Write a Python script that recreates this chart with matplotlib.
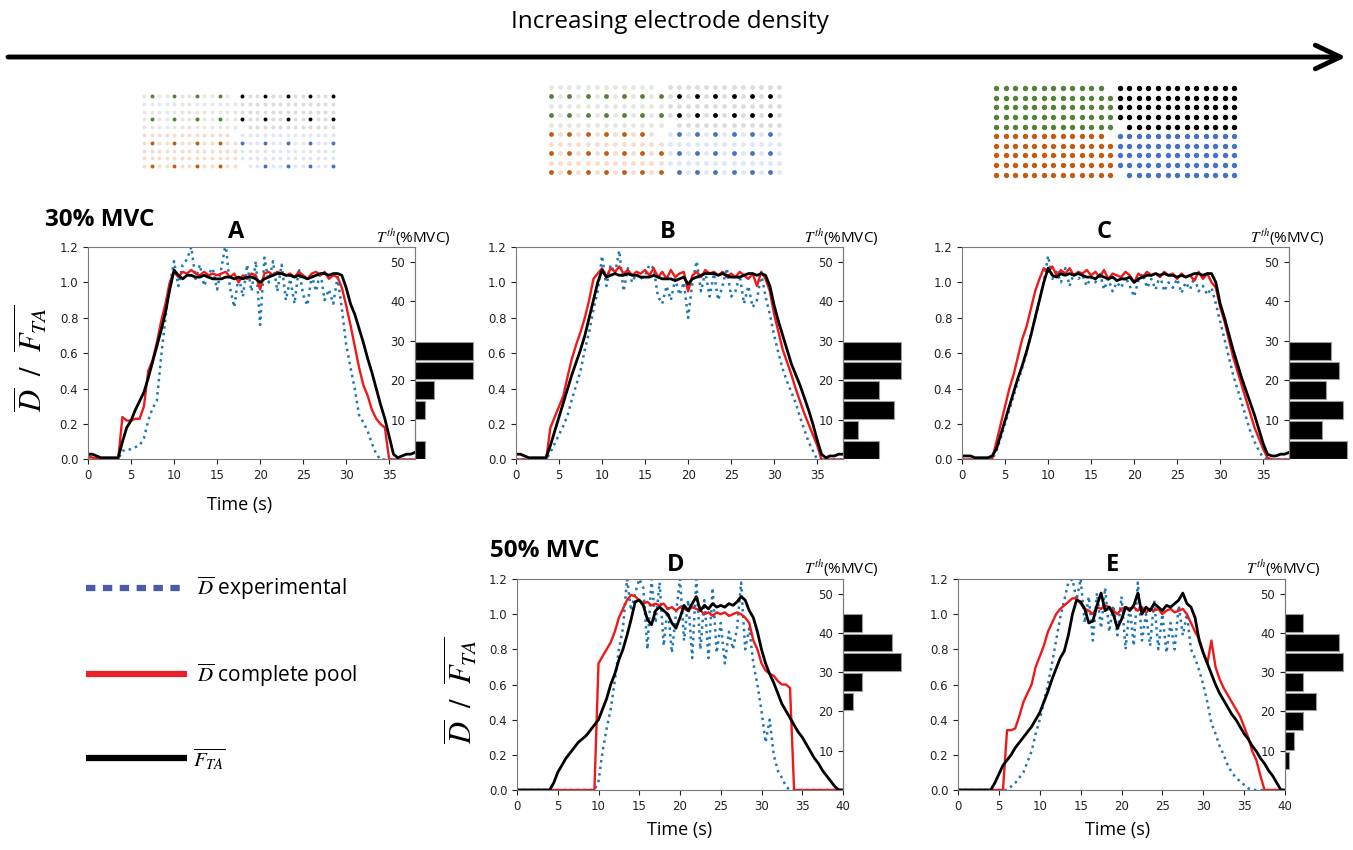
import numpy as np
import matplotlib
matplotlib.use('Agg')
import matplotlib.pyplot as plt

plt.rcParams['font.family'] = 'DejaVu Sans'
plt.rcParams['mathtext.fontset'] = 'stix'

W, H = 1353, 850
TEXT_FONT = 'Open Sans'

# time bases (s), one sample every 0.5 s
t_short = np.arange(0, 38.01, 0.5)
t_long = np.arange(0, 40.01, 0.5)

# ---- 30% MVC, grid A ----
A_black = [0.03, 0.03, 0.02, 0.01, 0.01, 0.01, 0.01, 0.01, 0.10, 0.18,
           0.22, 0.28, 0.33, 0.38, 0.46, 0.55, 0.64, 0.73, 0.83, 0.96,
           1.07, 1.04, 1.02, 1.04, 1.04, 1.03, 1.03, 1.04, 1.03, 1.02,
           1.02, 1.02, 1.03, 1.03, 1.02, 1.03, 1.02, 1.03, 1.03, 1.02,
           1.00, 1.02, 1.03, 1.04, 1.05, 1.05, 1.04, 1.04, 1.03, 1.04,
           1.03, 1.02, 1.03, 1.04, 1.05, 1.05, 1.04, 1.05, 1.05, 1.04,
           0.97, 0.88, 0.82, 0.74, 0.66, 0.57, 0.49, 0.40, 0.31, 0.23,
           0.13, 0.03, 0.01, 0.02, 0.03, 0.03, 0.04]
A_red = [0.02, 0.01, 0.01, 0.00, 0.00, 0.00, 0.00, 0.00, 0.24, 0.22,
         0.22, 0.23, 0.23, 0.30, 0.50, 0.56, 0.66, 0.78, 0.88, 1.00,
         1.06, 1.03, 1.06, 1.05, 1.07, 1.05, 1.04, 1.06, 1.04, 1.05,
         1.04, 1.05, 1.06, 1.03, 1.05, 1.00, 1.04, 1.02, 1.05, 1.04,
         0.96, 1.05, 1.06, 1.04, 1.06, 1.05, 1.04, 1.05, 1.03, 1.06,
         1.04, 1.02, 1.05, 1.06, 1.04, 1.06, 1.02, 1.04, 1.03, 0.97,
         0.87, 0.76, 0.64, 0.52, 0.42, 0.36, 0.28, 0.23, 0.20, 0.18,
         0.00, 0.00, 0.00, 0.00, 0.00, 0.00, 0.00]
A_blue = [0.00, 0.00, 0.00, 0.00, 0.00, 0.00, 0.00, 0.00, 0.05, 0.05,
          0.06, 0.07, 0.08, 0.12, 0.22, 0.29, 0.33, 0.58, 0.80, 0.98,
          1.12, 0.98, 1.10, 1.13, 1.20, 1.02, 1.10, 0.98, 1.05, 1.08,
          0.96, 1.08, 1.22, 0.97, 0.86, 1.04, 0.92, 1.10, 0.95, 1.12,
          0.76, 1.14, 1.00, 1.12, 0.95, 1.10, 0.90, 1.02, 0.88, 1.08,
          0.93, 0.87, 1.04, 0.95, 1.06, 0.90, 0.96, 0.88, 1.03, 0.85,
          0.65, 0.52, 0.40, 0.25, 0.21, 0.16, 0.09, 0.03, 0.00, 0.00,
          0.00, 0.00, 0.00, 0.00, 0.00, 0.00, 0.00]

# ---- 30% MVC, grid B ----
B_black = [0.03, 0.03, 0.02, 0.01, 0.01, 0.01, 0.01, 0.01, 0.08, 0.16,
           0.24, 0.32, 0.40, 0.48, 0.55, 0.62, 0.70, 0.80, 0.90, 1.00,
           1.07, 1.03, 1.04, 1.05, 1.04, 1.04, 1.05, 1.04, 1.04, 1.03,
           1.03, 1.03, 1.04, 1.03, 1.02, 1.02, 1.02, 1.01, 1.02, 1.03,
           0.99, 1.02, 1.03, 1.04, 1.05, 1.05, 1.05, 1.04, 1.05, 1.04,
           1.03, 1.03, 1.03, 1.04, 1.05, 1.05, 1.04, 1.05, 1.04, 0.98,
           0.87, 0.78, 0.70, 0.62, 0.54, 0.48, 0.42, 0.35, 0.28, 0.20,
           0.11, 0.03, 0.01, 0.02, 0.02, 0.03, 0.03]
B_red = [0.00, 0.00, 0.00, 0.00, 0.00, 0.00, 0.00, 0.00, 0.18, 0.24,
         0.30, 0.36, 0.47, 0.57, 0.65, 0.72, 0.80, 0.90, 1.02, 1.05,
         1.08, 1.03, 1.08, 1.06, 1.09, 1.05, 1.07, 1.04, 1.06, 1.05,
         1.07, 1.04, 1.08, 1.03, 1.06, 1.02, 1.07, 1.03, 1.05, 1.06,
         0.95, 1.04, 1.06, 1.03, 1.07, 1.05, 1.06, 1.04, 1.06, 1.03,
         1.05, 1.03, 1.06, 1.04, 1.02, 1.05, 0.98, 1.06, 1.02, 0.95,
         0.82, 0.72, 0.62, 0.55, 0.48, 0.40, 0.33, 0.26, 0.20, 0.14,
         0.08, 0.00, 0.00, 0.00, 0.00, 0.00, 0.00]
B_blue = [0.00, 0.00, 0.00, 0.00, 0.00, 0.00, 0.00, 0.00, 0.04, 0.09,
          0.14, 0.19, 0.25, 0.34, 0.42, 0.50, 0.62, 0.72, 0.85, 0.95,
          1.15, 0.98, 1.10, 1.05, 1.18, 0.95, 1.08, 1.00, 1.05, 1.02,
          1.04, 1.10, 1.08, 0.92, 0.88, 0.98, 0.90, 1.02, 0.93, 1.00,
          0.80, 1.00, 1.12, 0.95, 1.06, 0.92, 1.05, 0.90, 0.98, 1.08,
          0.92, 0.95, 1.04, 0.88, 0.98, 0.86, 0.90, 1.05, 0.92, 0.82,
          0.70, 0.60, 0.51, 0.44, 0.38, 0.32, 0.24, 0.17, 0.10, 0.05,
          0.00, 0.00, 0.00, 0.00, 0.00, 0.00, 0.00]

# ---- 30% MVC, grid C ----
C_black = [0.02, 0.02, 0.02, 0.01, 0.01, 0.01, 0.01, 0.02, 0.06, 0.14,
           0.22, 0.30, 0.38, 0.46, 0.53, 0.61, 0.70, 0.80, 0.90, 1.00,
           1.08, 1.04, 1.03, 1.05, 1.04, 1.05, 1.04, 1.05, 1.04, 1.03,
           1.03, 1.02, 1.04, 1.03, 1.02, 1.03, 1.01, 1.02, 1.02, 1.03,
           1.00, 1.02, 1.03, 1.04, 1.04, 1.05, 1.04, 1.05, 1.04, 1.04,
           1.03, 1.04, 1.03, 1.04, 1.05, 1.05, 1.04, 1.05, 1.05, 1.00,
           0.88, 0.80, 0.71, 0.62, 0.54, 0.46, 0.39, 0.32, 0.25, 0.17,
           0.09, 0.03, 0.02, 0.02, 0.03, 0.03, 0.04]
C_red = [0.00, 0.00, 0.00, 0.00, 0.00, 0.00, 0.00, 0.00, 0.10, 0.20,
         0.30, 0.40, 0.48, 0.58, 0.68, 0.75, 0.85, 0.95, 1.02, 1.08,
         1.06, 1.09, 1.04, 1.07, 1.05, 1.08, 1.04, 1.06, 1.05, 1.07,
         1.04, 1.06, 1.03, 1.07, 1.02, 1.05, 1.04, 1.03, 1.06, 1.04,
         1.00, 1.05, 1.03, 1.06, 1.04, 1.05, 1.03, 1.06, 1.04, 1.05,
         1.02, 1.05, 1.03, 1.04, 1.01, 1.06, 1.02, 1.05, 1.00, 0.97,
         0.86, 0.78, 0.68, 0.58, 0.50, 0.42, 0.34, 0.26, 0.18, 0.12,
         0.06, 0.01, 0.00, 0.00, 0.00, 0.00, 0.00]
C_blue = [0.00, 0.00, 0.00, 0.00, 0.00, 0.00, 0.00, 0.00, 0.05, 0.12,
          0.20, 0.28, 0.36, 0.44, 0.52, 0.60, 0.70, 0.80, 0.90, 1.00,
          1.15, 1.02, 1.06, 1.00, 1.08, 0.98, 1.05, 1.02, 1.04, 0.98,
          1.03, 1.00, 1.06, 0.96, 1.02, 0.95, 1.00, 0.97, 1.03, 0.98,
          0.92, 1.01, 1.05, 0.97, 1.02, 0.96, 1.04, 0.95, 1.00, 0.97,
          1.02, 0.94, 1.00, 0.96, 1.03, 0.95, 0.98, 0.93, 0.97, 0.88,
          0.78, 0.68, 0.58, 0.48, 0.40, 0.32, 0.24, 0.16, 0.10, 0.05,
          0.01, 0.00, 0.00, 0.00, 0.00, 0.00, 0.00]

# ---- 50% MVC, grid D ----
D_black = [0.00, 0.00, 0.00, 0.00, 0.00, 0.00, 0.00, 0.00, 0.00, 0.04,
           0.10, 0.14, 0.18, 0.21, 0.24, 0.27, 0.29, 0.31, 0.34, 0.37,
           0.40, 0.46, 0.52, 0.60, 0.66, 0.74, 0.80, 0.88, 0.97, 1.07,
           1.08, 1.05, 0.97, 0.94, 1.02, 1.04, 1.02, 1.00, 0.95, 0.92,
           0.98, 1.05, 1.02, 1.06, 1.10, 1.02, 1.05, 1.03, 1.06, 1.04,
           1.05, 1.04, 1.06, 1.05, 1.07, 1.10, 1.08, 1.02, 0.98, 0.90,
           0.80, 0.72, 0.66, 0.61, 0.55, 0.49, 0.45, 0.41, 0.37, 0.33,
           0.30, 0.26, 0.22, 0.18, 0.15, 0.11, 0.08, 0.05, 0.02, 0.00,
           0.00]
D_red = [0.00, 0.00, 0.00, 0.00, 0.00, 0.00, 0.00, 0.00, 0.00, 0.00,
         0.00, 0.00, 0.00, 0.00, 0.00, 0.00, 0.00, 0.00, 0.00, 0.00,
         0.72, 0.76, 0.80, 0.84, 0.90, 0.98, 1.03, 1.08, 1.11, 1.10,
         1.08, 1.06, 1.07, 1.05, 1.06, 1.05, 1.06, 1.03, 1.04, 1.02,
         1.04, 1.03, 1.02, 1.04, 1.03, 1.02, 1.00, 1.01, 0.99, 1.01,
         1.00, 1.01, 0.99, 1.00, 1.01, 1.00, 0.98, 0.95, 0.85, 0.80,
         0.72, 0.68, 0.66, 0.65, 0.62, 0.60, 0.60, 0.58, 0.00, 0.00,
         0.00, 0.00, 0.00, 0.00, 0.00, 0.00, 0.00, 0.00, 0.00, 0.00,
         0.00]
D_blue = [0.00, 0.00, 0.00, 0.00, 0.00, 0.00, 0.00, 0.00, 0.00, 0.00,
          0.00, 0.00, 0.00, 0.00, 0.00, 0.00, 0.00, 0.00, 0.00, 0.00,
          0.05, 0.22, 0.35, 0.46, 0.62, 0.80, 0.92, 1.20, 1.02, 1.12,
          1.20, 1.15, 0.80, 1.20, 0.95, 1.18, 0.82, 1.05, 0.78, 1.00,
          1.20, 0.85, 1.08, 0.75, 1.20, 0.80, 1.08, 0.75, 1.15, 0.78,
          0.95, 0.72, 0.90, 0.80, 0.92, 1.18, 0.80, 0.92, 0.72, 0.60,
          0.45, 0.27, 0.40, 0.20, 0.11, 0.07, 0.02, 0.00, 0.00, 0.00,
          0.00, 0.00, 0.00, 0.00, 0.00, 0.00, 0.00, 0.00, 0.00, 0.00,
          0.00]

# ---- 50% MVC, grid E ----
E_black = [0.00, 0.00, 0.00, 0.00, 0.00, 0.00, 0.00, 0.00, 0.00, 0.04,
           0.09, 0.14, 0.17, 0.20, 0.24, 0.27, 0.30, 0.33, 0.36, 0.40,
           0.44, 0.50, 0.56, 0.63, 0.69, 0.75, 0.79, 0.88, 1.00, 1.08,
           1.07, 1.03, 0.95, 0.96, 1.05, 1.12, 1.02, 1.04, 1.00, 0.92,
           0.97, 1.04, 1.02, 1.05, 1.12, 1.00, 1.04, 1.02, 1.06, 1.04,
           1.02, 1.05, 1.04, 1.06, 1.08, 1.12, 1.06, 1.04, 0.98, 0.85,
           0.78, 0.72, 0.66, 0.60, 0.55, 0.51, 0.47, 0.43, 0.40, 0.36,
           0.32, 0.29, 0.25, 0.22, 0.18, 0.15, 0.11, 0.08, 0.04, 0.00,
           0.00]
E_red = [0.00, 0.00, 0.00, 0.00, 0.00, 0.00, 0.00, 0.00, 0.00, 0.00,
         0.00, 0.00, 0.34, 0.34, 0.35, 0.42, 0.50, 0.55, 0.60, 0.70,
         0.76, 0.82, 0.90, 0.95, 1.00, 1.03, 1.05, 1.07, 1.09, 1.09,
         1.06, 1.03, 1.02, 1.00, 1.04, 1.03, 1.05, 1.04, 1.02, 1.00,
         1.03, 1.04, 1.03, 1.04, 1.02, 1.04, 1.01, 1.03, 1.02, 1.03,
         1.00, 1.02, 1.03, 1.01, 1.02, 1.03, 1.00, 0.95, 0.90, 0.86,
         0.78, 0.72, 0.85, 0.70, 0.63, 0.58, 0.54, 0.50, 0.46, 0.42,
         0.36, 0.30, 0.22, 0.17, 0.08, 0.00, 0.00, 0.00, 0.00, 0.00,
         0.00]
E_blue = [0.00, 0.00, 0.00, 0.00, 0.00, 0.00, 0.00, 0.00, 0.00, 0.00,
          0.00, 0.00, 0.00, 0.02, 0.04, 0.07, 0.10, 0.16, 0.22, 0.32,
          0.40, 0.50, 0.60, 0.72, 0.85, 0.98, 1.08, 1.18, 1.20, 1.08,
          1.20, 0.95, 1.10, 0.85, 1.12, 0.92, 1.15, 0.90, 1.05, 0.88,
          1.10, 0.80, 1.05, 0.82, 1.18, 0.85, 1.00, 0.82, 1.08, 0.80,
          1.00, 0.78, 0.95, 0.80, 1.05, 0.88, 1.00, 0.80, 0.75, 0.68,
          0.60, 0.50, 0.38, 0.32, 0.25, 0.20, 0.14, 0.10, 0.07, 0.05,
          0.03, 0.01, 0.00, 0.00, 0.00, 0.00, 0.00, 0.00, 0.00, 0.00,
          0.00]

# recruitment thresholds: motor units per 5 %MVC bin (0-5, 5-10, ...)
th_bins = np.arange(0, 50, 5)
A_counts = [1, 0, 1, 2, 6, 6]
B_counts = [5, 2, 7, 5, 8, 8]
C_counts = [14, 8, 13, 9, 12, 10]
D_counts = [0, 0, 0, 0, 1, 2, 6, 5, 2]
E_counts = [0, 1, 2, 4, 7, 4, 13, 12, 4]

# electrode grids: active columns/rows per quadrant (local indices)
grid_cols_left = [(1, 4, 7, 10), (0, 2, 4, 6, 8, 10, 12), tuple(range(13))]
grid_cols_right = [(0, 3, 6, 9, 12), (1, 3, 5, 7, 9, 11), tuple(range(13))]
grid_rows_top = [(0, 3), (1, 3), tuple(range(5))]
grid_rows_bottom = [(1, 4), (0, 2, 4), tuple(range(5))]

BLUE = '#1f77b4'
RED = '#f01818'
SPINE = '#7a7a7a'
quad_on = {'TL': '#538135', 'TR': '#000000', 'BL': '#c55a11', 'BR': '#4472c4'}
quad_off = {'TL': '#e4e8e0', 'TR': '#dcdcde', 'BL': '#f8dccd', 'BR': '#dfe7f7'}

fig = plt.figure(figsize=(W / 100, H / 100), dpi=100)


def px_axes(left, top, width, height):
    return fig.add_axes([left / W, 1 - (top + height) / H, width / W, height / H])


bg = px_axes(0, 0, W, H)
bg.set_xlim(0, W)
bg.set_ylim(H, 0)
bg.axis('off')


def draw_grid(x0, y0, dx, dy, size, k):
    for r in range(10):
        for c in range(26):
            top, left = r < 5, c < 13
            lr = r if top else r - 5
            lc = c if left else c - 13
            # one corner electrode is missing in every 13x5 quadrant
            if (lr, lc) == ((0, 12) if left else (4, 0)):
                continue
            quad = ('T' if top else 'B') + ('L' if left else 'R')
            cols = grid_cols_left[k] if left else grid_cols_right[k]
            rows = grid_rows_top[k] if top else grid_rows_bottom[k]
            on = lc in cols and lr in rows
            bg.scatter(x0 + c * dx, y0 + r * dy, s=size, linewidths=0,
                       color=quad_on[quad] if on else quad_off[quad])


def draw_panel(box, t, blue, red, black, counts, xmax, xticks):
    left, top, width, height = box
    ax = px_axes(left, top, width, height)
    ax.plot(t, blue, ls=':', color=BLUE, lw=1.8)
    ax.plot(t, red, color=RED, lw=1.7)
    ax.plot(t, black, color='black', lw=2.0)
    ax.set_xlim(0, xmax)
    ax.set_ylim(0, 1.2)
    ax.set_xticks(xticks)
    ax.set_yticks(np.arange(0, 1.21, 0.2))
    ax.yaxis.set_major_formatter(matplotlib.ticker.FormatStrFormatter('%.1f'))
    for sp in ax.spines.values():
        sp.set_color(SPINE)
    ax.tick_params(labelsize=8.5, length=3.5, colors='#222222')

    axh = px_axes(left + width, top, 60, height)
    axh.barh(th_bins[:len(counts)] + 0.25, counts, height=4.5, align='edge',
             color='black', edgecolor='#9a9a9a', linewidth=0.8)
    axh.set_ylim(0, 53.7)
    axh.set_xlim(0, max(counts) * 1.03)
    axh.patch.set_alpha(0)
    for name in ['top', 'right', 'bottom']:
        axh.spines[name].set_visible(False)
    axh.spines['left'].set_color(SPINE)
    axh.set_xticks([])
    axh.set_yticks([10, 20, 30, 40, 50])
    axh.tick_params(labelsize=8.5, length=3.5, colors='#222222')
    bg.text(left + width - 2, top - 11, r'$T^{th}$(%MVC)', ha='center',
            va='center', fontsize=11, family=TEXT_FONT)
    return ax


# header arrow
bg.text(670, 22, 'Increasing electrode density', ha='center', va='center',
        fontsize=17.5, family=TEXT_FONT)
bg.annotate('', xy=(1346, 57), xytext=(8, 57),
            arrowprops=dict(arrowstyle='->,head_length=1.8,head_width=0.85',
                            lw=3.5, color='black', shrinkA=0, shrinkB=0))

draw_grid(144, 96, 7.56, 7.8, 8, 0)
draw_grid(551, 87, 9.13, 9.44, 12, 1)
draw_grid(996, 88, 9.53, 9.63, 15, 2)

ticks_short = [0, 5, 10, 15, 20, 25, 30, 35]
ticks_long = [0, 5, 10, 15, 20, 25, 30, 35, 40]
draw_panel((88, 247, 327, 212.5), t_short, A_blue, A_red, A_black, A_counts, 38, ticks_short)
draw_panel((516, 247, 327, 212.5), t_short, B_blue, B_red, B_black, B_counts, 38, ticks_short)
draw_panel((962, 247, 327, 212.5), t_short, C_blue, C_red, C_black, C_counts, 38, ticks_short)
draw_panel((517, 579, 326, 211), t_long, D_blue, D_red, D_black, D_counts, 40, ticks_long)
draw_panel((958, 579, 327, 211), t_long, E_blue, E_red, E_black, E_counts, 40, ticks_long)

ylab = r'$\overline{D}\ \ /\ \ \overline{F_{TA}}$'
bg.text(30, 358, ylab, rotation=90, ha='center', va='center', fontsize=22)
bg.text(460, 690, ylab, rotation=90, ha='center', va='center', fontsize=22)

for x, y in [(240, 505), (680, 830), (1118, 830)]:
    bg.text(x, y, 'Time (s)', ha='center', va='center', fontsize=13, family=TEXT_FONT)

for s, x, y in [('A', 236, 232), ('B', 668, 232), ('C', 1104, 232),
                ('D', 676, 565), ('E', 1113, 565)]:
    bg.text(x, y, s, ha='center', va='center', fontsize=17, fontweight='bold',
            family=TEXT_FONT)
bg.text(45, 220, '30% MVC', ha='left', va='center', fontsize=17.5,
        fontweight='bold', family=TEXT_FONT)
bg.text(490, 551, '50% MVC', ha='left', va='center', fontsize=17.5,
        fontweight='bold', family=TEXT_FONT)

# legend
bg.plot([86, 187], [588, 588], color='#4a5bad', lw=4.5, ls=(0, (1.5, 1.2)),
        dash_capstyle='butt')
bg.plot([86, 187], [674, 674], color='#e8202a', lw=4.5, solid_capstyle='butt')
bg.plot([86, 187], [758, 758], color='black', lw=4.5, solid_capstyle='butt')
bg.text(197, 588, r'$\overline{D}$ experimental', va='center', fontsize=15,
        family=TEXT_FONT)
bg.text(197, 675, r'$\overline{D}$ complete pool', va='center', fontsize=15,
        family=TEXT_FONT)
bg.text(193, 760, r'$\overline{F_{TA}}$', va='center', fontsize=15,
        family=TEXT_FONT)

fig.savefig('out.png', dpi=100)
